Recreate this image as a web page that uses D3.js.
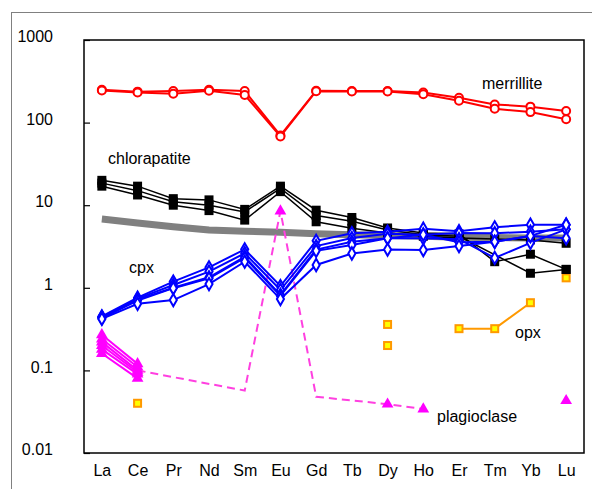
<!DOCTYPE html>
<html><head><meta charset="utf-8">
<script src="https://cdn.jsdelivr.net/npm/d3@7"></script>
<style>body{margin:0;background:#fff}svg{display:block;font-family:"Liberation Sans",Arial,sans-serif}</style>
</head><body>
<svg id="chart" width="592" height="489"></svg>
<script>
const elements = ["La","Ce","Pr","Nd","Sm","Eu","Gd","Tb","Dy","Ho","Er","Tm","Yb","Lu"];
const yTicks = [0.01, 0.1, 1, 10, 100, 1000];
const yTickLabels = ["0.01","0.1","1","10","100","1000"];

const merrillite = [
  [250, 237, 241, 250, 241, 70, 243, 241, 241, 232, 200, 166, 156, 138],
  [245, 232, 224, 243, 216, 68, 240, 238, 238, 220, 184, 147, 134, 110]
];
const chlorapatite = [
  [20, 17, 12, 11.6, 8.9, 17, 8.7, 7.1, 5.3, 4.6, 4.5, 2.07, 2.55, 1.67],
  [18.5, 15, 11, 10, 8.3, 16, 7.5, 6.4, 5.0, 4.4, 4.2, null, 1.5, 1.67],
  [17, 13.3, 10, 8.6, 6.6, 14.6, 6.3, 5.25, 4.6, 4.2, 4.0, 3.9, 3.8, 3.46]
];
const bulk = [6.8, 6.1, 5.5, 5.0, 4.85, 4.7, 4.5, 4.4, 4.3, 4.2, 4.1, 4.05, 4.0, 4.0];
const cpx = [
  [0.45, 0.76, 1.19, 1.77, 2.92, 1.05, 3.7, 4.57, 4.78, 5.2, 4.85, 5.4, 5.8, 5.8],
  [0.44, 0.74, 1.08, 1.57, 2.62, 0.94, 3.2, 4.0, 4.5, 4.4, 4.6, 4.57, 4.78, 5.1],
  [0.44, 0.72, 1.0, 1.34, 2.38, 0.82, 2.9, 3.6, 3.97, 3.97, 3.88, 2.3, 3.5, 5.1],
  [0.43, 0.70, 0.99, 1.3, 2.3, 0.80, 2.8, 3.3, 3.97, 4.4, 3.55, 3.6, 4.25, 3.97],
  [0.42, 0.64, 0.71, 1.11, 2.07, 0.73, 1.89, 2.6, 2.9, 2.86, 3.2, 3.6, 4.25, 5.8]
];
const plagLaCe = [
  [0.27, 0.12],
  [0.24, 0.11],
  [0.22, 0.10],
  [0.20, 0.095],
  [0.18, 0.09],
  [0.16, 0.08]
];
const plagDashed = [null, 0.1, null, null, 0.057, 8.5, 0.048, null, 0.039, 0.034, null, null, null, null];
const plagPoints = [null, null, null, null, null, 8.5, null, null, 0.039, 0.034, null, null, null, 0.043];
const opx = [
  [null, 0.04, null, null, null, null, null, null, 0.36, null, 0.32, 0.32, 0.66, null],
  [null, null, null, null, null, null, null, null, 0.2, null, null, null, null, 1.32]
];
const labels = [
  {text: "merrillite", x: 482, y: 85},
  {text: "chlorapatite", x: 108, y: 160},
  {text: "cpx", x: 129, y: 269},
  {text: "opx", x: 515, y: 334},
  {text: "plagioclase", x: 437, y: 418}
];

const svg = d3.select("#chart");
const L = 84, R = 584, T = 40, B = 453;
const x = d3.scalePoint().domain(elements).range([L, R]).padding(0.5);
const y = d3.scaleLog().domain([0.01, 1000]).range([B, T]);
const FS = 16;

// outer frame
svg.append("rect").attr("x", 11.5).attr("y", 12.5).attr("width", 700).attr("height", 700)
  .attr("fill", "none").attr("stroke", "#808080").attr("stroke-width", 1);

// plot box
svg.append("rect").attr("x", L).attr("y", T).attr("width", R - L).attr("height", B - T)
  .attr("fill", "#fff").attr("stroke", "#000").attr("stroke-width", 1.5);

// y axis ticks (inside)
const yAxis = d3.axisRight(y).tickValues(yTicks).tickSize(6).tickFormat("");
const ya = svg.append("g").attr("transform", `translate(${L},0)`).call(yAxis);
ya.select(".domain").remove();
ya.selectAll("line").attr("stroke", "#000").attr("stroke-width", 1.2);
svg.append("g").selectAll("text").data(yTicks).join("text")
  .attr("x", 53).attr("y", d => y(d) - 2)
  .attr("text-anchor", "end").attr("dominant-baseline", "middle")
  .attr("font-size", FS).attr("fill", "#000")
  .text((d, i) => yTickLabels[i]);

// x labels
const xAxis = d3.axisBottom(x).tickSize(0).tickPadding(0);
const xa = svg.append("g").attr("transform", `translate(0,${B})`).call(xAxis);
xa.select(".domain").remove();
xa.selectAll("text").attr("font-size", FS).attr("font-family", "'Liberation Sans',Arial,sans-serif")
  .attr("fill", "#000").attr("dy", 0).attr("y", 23);

function pts(arr) { return arr.map((v, i) => ({k: elements[i], v})); }
const lineGap = d3.line().defined(d => d.v != null).x(d => x(d.k)).y(d => y(d.v));
const lineConn = d3.line().x(d => x(d.k)).y(d => y(d.v));

const g = svg.append("g");

// grey bulk line
g.append("path").attr("d", lineConn(pts(bulk))).attr("fill", "none")
  .attr("stroke", "#808080").attr("stroke-width", 7);

// plagioclase dashed
g.append("path").attr("d", lineConn(pts(plagDashed).filter(d => d.v != null))).attr("fill", "none")
  .attr("stroke", "#ff40e0").attr("stroke-width", 2).attr("stroke-dasharray", "8,5");

const tri = d3.symbol().type(d3.symbolTriangle).size(60);
plagLaCe.forEach(s => {
  const p = s.map((v, i) => ({k: elements[i], v}));
  g.append("path").attr("d", lineConn(p)).attr("fill", "none").attr("stroke", "#ff00ff").attr("stroke-width", 2);
  g.selectAll(null).data(p).join("path").attr("d", tri)
    .attr("transform", d => `translate(${x(d.k)},${y(d.v)})`).attr("fill", "#ff00ff");
});
g.selectAll(null).data(pts(plagPoints).filter(d => d.v != null)).join("path").attr("d", tri)
  .attr("transform", d => `translate(${x(d.k)},${y(d.v)})`).attr("fill", "#ff00ff");

// opx
opx.forEach(s => {
  const p = pts(s);
  g.append("path").attr("d", lineGap(p)).attr("fill", "none").attr("stroke", "#ff9900").attr("stroke-width", 2);
  g.selectAll(null).data(p.filter(d => d.v != null)).join("rect")
    .attr("x", d => x(d.k) - 3.5).attr("y", d => y(d.v) - 3.5).attr("width", 7).attr("height", 7)
    .attr("fill", "#ffff00").attr("stroke", "#ff9900").attr("stroke-width", 2);
});

// chlorapatite
chlorapatite.forEach(s => {
  const p = pts(s).filter(d => d.v != null);
  g.append("path").attr("d", lineConn(p)).attr("fill", "none").attr("stroke", "#000").attr("stroke-width", 1.5);
  g.selectAll(null).data(p).join("rect")
    .attr("x", d => x(d.k) - 4.5).attr("y", d => y(d.v) - 4.5).attr("width", 9).attr("height", 9)
    .attr("fill", "#000");
});

// cpx
const dia = d3.symbol().type(d3.symbolDiamond).size(44);
cpx.forEach(s => {
  const p = pts(s);
  g.append("path").attr("d", lineConn(p)).attr("fill", "none").attr("stroke", "#0000ff").attr("stroke-width", 2);
  g.selectAll(null).data(p).join("path").attr("d", dia)
    .attr("transform", d => `translate(${x(d.k)},${y(d.v)})`)
    .attr("fill", "#fff").attr("stroke", "#0000ff").attr("stroke-width", 2);
});

// merrillite
merrillite.forEach(s => {
  const p = pts(s);
  g.append("path").attr("d", lineConn(p)).attr("fill", "none").attr("stroke", "#ff0000").attr("stroke-width", 2);
  g.selectAll(null).data(p).join("circle")
    .attr("cx", d => x(d.k)).attr("cy", d => y(d.v)).attr("r", 4)
    .attr("fill", "#fff").attr("stroke", "#ff0000").attr("stroke-width", 2);
});

// labels
svg.append("g").selectAll("text").data(labels).join("text")
  .attr("x", d => d.x).attr("y", d => d.y).attr("dominant-baseline", "middle")
  .attr("font-size", FS).attr("fill", "#000").text(d => d.text);
</script>
</body></html>
